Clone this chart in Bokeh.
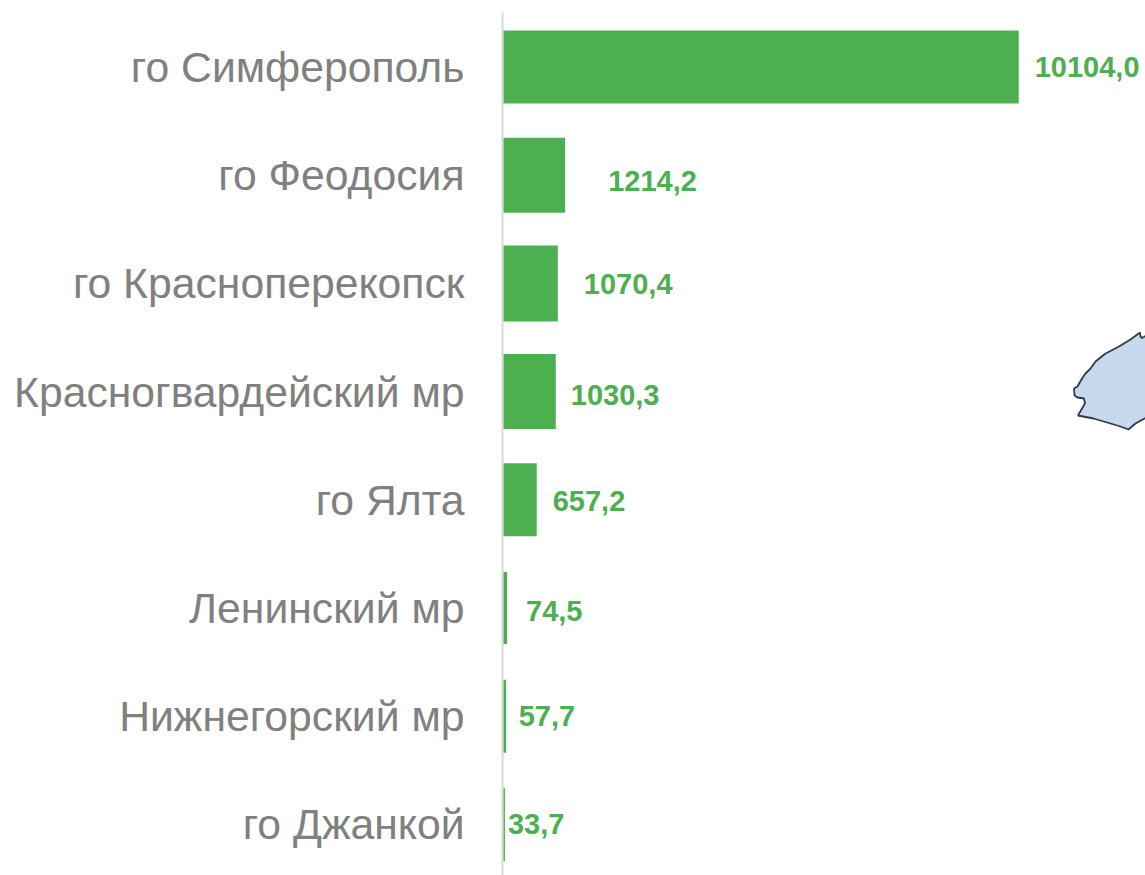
from bokeh.embed import file_html
from bokeh.resources import INLINE
from bokeh.plotting import figure
from bokeh.models import ColumnDataSource, Range1d, FixedTicker
from bokeh.core.properties import value

categories = ["го Симферополь", "го Феодосия", "го Красноперекопск", "Красногвардейский мр",
              "го Ялта", "Ленинский мр", "Нижнегорский мр", "го Джанкой"]
values = [10104.0, 1214.2, 1070.4, 1030.3, 657.2, 74.5, 57.7, 33.7]
value_labels = ["10104,0", "1214,2", "1070,4", "1030,3", "657,2", "74,5", "57,7", "33,7"]

# hand-placed offsets of the data labels, relative to the bar ends (pixels)
label_dx = [16, 43, 26, 15, 16, 19, 12.5, 3]
label_dy = [0, 5.5, 1, 3.5, 1.5, 3, 0, -0.5]
# bar thickness as drawn in the reference (pixels)
bar_px = [73, 75, 76, 75, 73, 72, 73, 73]

# fragment of the decorative map at the right edge (page pixels)
map_x = [1146, 1141.5, 1140, 1139.5, 1130, 1118.5, 1105, 1095, 1090, 1085, 1081.5, 1077, 1073.5, 1074, 1077,
         1083.5, 1084.5, 1081.5, 1077.5, 1093, 1110, 1120, 1128, 1135, 1146]
map_y = [335, 337.5, 336, 332, 339, 346, 353, 361, 368, 373, 378, 386, 388, 395, 397,
         398, 403, 408, 415, 418, 423, 426, 429, 423, 417]

WIDTH, HEIGHT = 1145, 875
FRAME_LEFT, FRAME_TOP = 502, 12
ZERO_PX = 502.7
PX_PER_UNIT = 0.05102
BAND = 108.2
FIRST_CENTER = 66.5

src = ColumnDataSource(dict(
    y=list(range(len(values))),
    v=values,
    t=value_labels,
    h=[b / BAND for b in bar_px],
    dx=label_dx,
    dy=label_dy,
))

p = figure(
    width=WIDTH, height=HEIGHT, output_backend="svg", toolbar_location=None,
    x_range=Range1d((FRAME_LEFT - ZERO_PX) / PX_PER_UNIT, (WIDTH - ZERO_PX) / PX_PER_UNIT),
    y_range=Range1d((HEIGHT - FIRST_CENTER) / BAND, (FRAME_TOP - FIRST_CENTER) / BAND),
    min_border_left=FRAME_LEFT, min_border_top=FRAME_TOP, min_border_right=0, min_border_bottom=0,
    x_axis_location=None,
    outline_line_color=None,
)
p.grid.visible = False

p.hbar(y="y", left=0, right="v", height="h", source=src,
       fill_color="#4CAF50", line_color=None)

p.text(x="v", y="y", text="t", source=src, x_offset="dx", y_offset="dy",
       text_font=value("Liberation Sans"), text_font_style="bold", text_font_size="29px",
       text_color="#4CAF50", text_align="left", text_baseline="middle")

# map fragment: page pixels converted through the axes' own ranges
p.patch(
    x=[(x - ZERO_PX) / PX_PER_UNIT for x in map_x],
    y=[(y - FIRST_CENTER) / BAND for y in map_y],
    fill_color="#C5D8EE", line_color="#333a44", line_width=1.8,
)

ax = p.yaxis[0]
ax.ticker = FixedTicker(ticks=list(range(len(categories))))
ax.major_label_overrides = {i: c for i, c in enumerate(categories)}
ax.major_label_text_font = "Liberation Sans"
ax.major_label_text_font_size = "42.7px"
ax.major_label_text_color = "#808080"
ax.major_label_standoff = 38
ax.major_tick_line_color = None
ax.minor_tick_line_color = None
ax.major_tick_in = 0
ax.major_tick_out = 0
ax.axis_line_color = "#d9d9d9"
ax.axis_line_width = 2

open("out.html", "w").write(file_html(p, INLINE))
